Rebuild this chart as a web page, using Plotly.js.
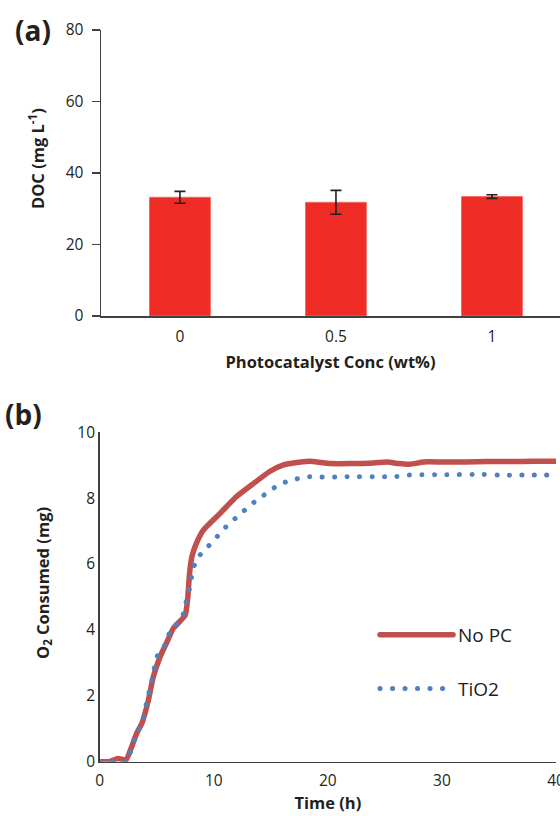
<!DOCTYPE html>
<html>
<head>
<meta charset="utf-8">
<script src="https://cdn.plot.ly/plotly-3.0.1.min.js"></script>
<style>
  html, body { margin: 0; padding: 0; background: #fff; }
  #chart { width: 560px; height: 816px; }
  path.js-line { stroke-linecap: round; stroke-linejoin: round; }
</style>
</head>
<body>
<div id="chart"></div>
<script>
// ---- Panel (a): DOC vs photocatalyst concentration ----
const categories = ["0", "0.5", "1"];
const docValues = [33.2, 31.8, 33.4];
const docErrors = [1.65, 3.35, 0.5];

// ---- Panel (b): O2 consumed vs time ----
const timeNoPC = [0, 0.8, 1.6, 2.3, 2.8, 3.25, 3.7, 4.27, 4.7, 5.3, 5.9, 6.46, 7.0, 7.5, 7.7, 7.9, 8.1, 8.5, 9.1, 10.55, 12.0, 13.5, 14.9, 16.1, 17.0, 18.4, 20.2, 22, 24, 25.2, 26.2, 27.2, 28.4, 30, 32, 34, 36, 38, 40];
const o2NoPC   = [0, 0, 0.1, 0.05, 0.45, 0.87, 1.17, 1.87, 2.58, 3.19, 3.64, 4.05, 4.25, 4.45, 4.9, 5.8, 6.25, 6.65, 7.04, 7.54, 8.05, 8.45, 8.81, 9.01, 9.07, 9.12, 9.05, 9.05, 9.07, 9.10, 9.05, 9.03, 9.10, 9.10, 9.10, 9.11, 9.11, 9.12, 9.12];

const timeTiO2 = [0, 1.4, 2.4, 2.75, 3.1, 3.54, 3.9, 4.1, 4.35, 4.6, 4.8, 5.1, 5.7, 6.1, 6.66, 7.25, 7.5, 7.8, 8.0, 8.2, 8.6, 9.35, 10.1, 10.8, 11.6, 12.4, 13.2, 14.06, 14.9, 15.8, 16.9, 17.9, 18.9, 20, 21, 22, 24, 26, 27, 28, 30, 33.5, 35, 37, 40];
const o2TiO2   = [0, 0, 0, 0.36, 0.71, 1.06, 1.41, 1.77, 2.15, 2.5, 2.87, 3.25, 3.53, 3.89, 4.14, 4.4, 4.76, 5.13, 5.5, 5.87, 6.2, 6.48, 6.75, 7.04, 7.3, 7.54, 7.79, 8.01, 8.22, 8.43, 8.55, 8.64, 8.66, 8.63, 8.65, 8.65, 8.65, 8.66, 8.70, 8.71, 8.71, 8.72, 8.70, 8.70, 8.70];

const W = 560, H = 816;
const px = v => v / W;
const py = v => 1 - v / H;

const textColor = '#231F20';
const axisColor = '#404040';
const font = '"Open Sans", Lato, sans-serif';

const traces = [
  {
    type: 'bar',
    x: categories,
    y: docValues,
    xaxis: 'x', yaxis: 'y',
    marker: { color: '#EE2B24', line: { color: '#F36B66', width: 1 } },
    error_y: { type: 'data', array: docErrors, visible: true, color: '#231F20', thickness: 1.6, width: 5.5 },
    showlegend: false,
    hoverinfo: 'x+y'
  },
  {
    type: 'scatter', mode: 'lines',
    name: 'No PC',
    x: timeNoPC, y: o2NoPC,
    xaxis: 'x2', yaxis: 'y2',
    line: { color: '#C0504D', width: 5.5, shape: 'spline', smoothing: 0.5 },
    legendgroup: 'g1'
  },
  {
    type: 'scatter', mode: 'lines',
    name: 'TiO2',
    x: timeTiO2, y: o2TiO2,
    xaxis: 'x2', yaxis: 'y2',
    line: { color: '#4F81BD', width: 5, dash: '0.1px,12.4px', shape: 'spline', smoothing: 0.5 },
    legendgroup: 'g2'
  }
];

const tickFont = { family: font, size: 15.5, color: textColor };
const titleFont = { family: font, size: 16.5, color: textColor, weight: 'bold' };

const layout = {
  width: W, height: H,
  margin: { l: 0, r: 0, t: 0, b: 0 },
  paper_bgcolor: '#fff', plot_bgcolor: '#fff',
  font: { family: font, color: textColor },
  bargap: 0.61,
  showlegend: true,
  legend: {
    x: px(375), y: py(616), xanchor: 'left', yanchor: 'top',
    font: { family: font, size: 19, color: textColor },
    bgcolor: 'rgba(0,0,0,0)', borderwidth: 0,
    itemwidth: 73, tracegroupgap: 26
  },
  xaxis: {
    domain: [px(101), 1], anchor: 'y',
    type: 'category',
    range: [-0.506, 2.436],
    showline: true, linecolor: axisColor, linewidth: 1.5,
    ticks: '', showgrid: false, zeroline: false,
    tickfont: tickFont, ticklabelstandoff: 6,
    title: { text: 'Photocatalyst Conc (wt%)', font: titleFont, standoff: 10 }
  },
  yaxis: {
    domain: [py(316), py(30)], anchor: 'x',
    range: [0, 80], dtick: 20,
    showline: true, linecolor: axisColor, linewidth: 1.5,
    ticks: 'outside', ticklen: 8, tickcolor: axisColor, tickwidth: 1.5,
    showgrid: false, zeroline: false,
    tickfont: tickFont, ticklabelstandoff: 5
  },
  xaxis2: {
    domain: [px(99.7), px(556)], anchor: 'y2',
    range: [0, 40], dtick: 10,
    showline: true, linecolor: axisColor, linewidth: 1.5,
    ticks: '', showgrid: false, zeroline: false,
    tickfont: tickFont, ticklabeloverflow: 'allow', ticklabelstandoff: 4,
    title: { text: 'Time (h)', font: titleFont, standoff: 6 }
  },
  yaxis2: {
    domain: [py(761.7), py(432.3)], anchor: 'x2',
    range: [0, 10], dtick: 2,
    showline: true, linecolor: axisColor, linewidth: 1.5,
    ticks: '', showgrid: false, zeroline: false,
    tickfont: tickFont
  },
  annotations: [
    { text: '<b>(a)</b>', xref: 'paper', yref: 'paper', x: px(13), y: py(30), xanchor: 'left', yanchor: 'middle', showarrow: false, font: { family: font, size: 28, color: textColor } },
    { text: '<b>(b)</b>', xref: 'paper', yref: 'paper', x: px(3), y: py(414), xanchor: 'left', yanchor: 'middle', showarrow: false, font: { family: font, size: 28, color: textColor } },
    { text: '<b>DOC (mg L<sup>-1</sup>)</b>', xref: 'paper', yref: 'paper', x: px(37), y: py(159), xanchor: 'center', yanchor: 'middle', textangle: -90, showarrow: false, font: { family: font, size: 16.5, color: textColor } },
    { text: '<b>O<sub>2</sub> Consumed (mg)</b>', xref: 'paper', yref: 'paper', x: px(43), y: py(583), xanchor: 'center', yanchor: 'middle', textangle: -90, showarrow: false, font: { family: font, size: 16.5, color: textColor } }
  ]
};

Plotly.newPlot('chart', traces, layout, { displayModeBar: false, staticPlot: true });
</script>
</body>
</html>
